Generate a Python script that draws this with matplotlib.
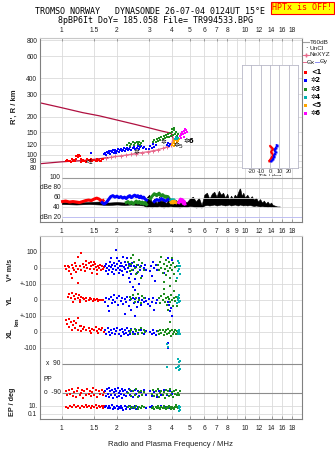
import matplotlib
matplotlib.use("Agg")
from matplotlib import pyplot as plt
import numpy as np

# ---- data ----
FREQ_TICKS = [1, 1.5, 2, 3, 4, 5, 6, 7, 8, 10, 12, 14, 16, 18]
FREQ_TICKS_MID = [1, 1.5, 2, 3, 4, 5, 6, 7, 8, 9, 10, 12, 14, 16, 18]
FREQ_LABELS = ['1', '1.5', '2', '3', '4', '5', '6', '7', '8', '10', '12', '14', '16', '18']
FREQ_LABELS_MID = ['1', '1.5', '2', '3', '4', '5', '6', '7', '8', '9', '10', '12', '14', '16', '18']
R_TICKS = [80, 90, 100, 120, 150, 200, 300, 400, 600, 800]

# model profile lines (MHz, km)
upper_f = [0.76, 1.0, 1.3, 1.6, 2.0, 2.5, 3.0, 3.5, 3.95, 4.05]
upper_r = [257, 235, 215, 203, 188, 174, 163, 154, 148, 135]
lower_f = [0.76, 1.0, 1.3, 1.6, 1.8, 2.0, 2.3, 2.6, 3.0, 3.3, 3.6, 3.9, 4.0, 4.05]
lower_r = [85, 88, 90, 93, 95, 97, 100, 103, 106, 109, 113, 118, 125, 135]
nexyz_f = [1.75, 1.85, 1.95, 2.1, 2.25, 2.4, 2.55, 2.75, 2.95, 3.15, 3.35, 3.55, 3.75, 3.95]
nexyz_r = [95, 96, 97, 98, 99, 101, 102, 104, 106, 108, 110, 113, 116, 119]

# echo traces R' (MHz, km)
top_red = [(1.05, 90), (1.07, 91), (1.09, 89), (1.11, 90), (1.13, 92), (1.15, 90), (1.17, 91),
           (1.19, 93), (1.2, 97), (1.22, 99), (1.23, 96), (1.24, 100), (1.25, 98), (1.27, 92),
           (1.29, 90), (1.31, 91), (1.33, 89), (1.35, 90), (1.37, 92), (1.40, 91), (1.43, 89),
           (1.46, 90), (1.5, 91), (1.53, 90), (1.56, 92), (1.59, 91), (1.62, 90), (1.65, 92),
           (1.68, 93), (1.12, 88), (1.18, 89), (1.28, 88), (1.36, 88), (1.45, 92), (1.55, 89),
           (1.64, 90)]
top_blue = [(1.70, 101), (1.72, 104), (1.74, 100), (1.76, 106), (1.78, 103), (1.80, 108),
            (1.82, 104), (1.84, 101), (1.86, 107), (1.88, 105), (1.90, 109), (1.92, 103),
            (1.94, 106), (1.96, 110), (1.98, 104), (2.00, 108), (2.03, 111), (2.05, 105),
            (2.08, 109), (2.10, 112), (2.13, 107), (2.16, 110), (2.19, 113), (2.22, 108),
            (2.25, 111), (2.28, 114), (2.31, 109), (2.34, 112), (2.37, 115), (2.40, 110),
            (2.44, 113), (2.48, 116), (2.52, 111), (2.56, 114), (2.60, 117), (2.64, 112),
            (2.68, 115), (2.72, 118), (2.76, 113), (2.82, 116), (2.88, 112), (3.0, 112),
            (3.05, 118), (3.1, 114), (3.15, 121), (3.2, 116), (3.25, 119), (3.75, 120),
            (3.8, 124), (3.85, 118), (3.9, 122), (1.44, 103)]
top_green = [(2.28, 120), (2.32, 124), (2.36, 118), (2.40, 122), (2.44, 126), (2.48, 119),
             (2.52, 123), (2.56, 127), (2.60, 121), (2.64, 125), (2.68, 120), (2.72, 124),
             (2.76, 128), (3.15, 125), (3.2, 130), (3.25, 127), (3.3, 133), (3.35, 129),
             (3.4, 136), (3.45, 131), (3.5, 138), (3.55, 133), (3.6, 140), (3.65, 135),
             (3.7, 142), (3.75, 137), (3.8, 145), (3.85, 139), (3.9, 148), (3.95, 141),
             (4.0, 152), (4.05, 144), (4.1, 156), (4.15, 146), (4.2, 150), (4.25, 140),
             (4.3, 145), (3.98, 160), (4.12, 162)]
top_orange = [(4.0, 120), (4.05, 124), (4.08, 118), (4.12, 127), (4.16, 122), (4.2, 130),
              (4.24, 125), (4.28, 132), (4.32, 128), (4.36, 134), (4.1, 131), (4.22, 136)]
top_teal = [(4.15, 134), (4.2, 138), (4.25, 132), (4.3, 136)]
top_magenta = [(4.4, 140), (4.45, 146), (4.5, 142), (4.55, 150), (4.6, 145), (4.65, 155),
               (4.7, 148), (4.75, 158), (4.8, 150), (4.5, 136), (4.62, 138), (4.72, 160)]

# tilt inset (deg, km)
tilt_red = [(0, 118), (1, 116), (2, 114), (3, 112), (2, 109), (1, 106), (2, 103), (3, 100),
            (2, 97), (1, 94), (0, 92), (-1, 90)]
tilt_blue = [(7, 120), (7, 117), (6, 114), (5, 111), (5, 108), (6, 105), (5, 102), (4, 99),
             (4, 96), (3, 93), (2, 91), (1, 89)]

# amplitude dBe
amp_red_f = [1.01, 1.05, 1.10, 1.15, 1.20, 1.25, 1.30, 1.35, 1.40, 1.45, 1.50, 1.55, 1.60, 1.65, 1.68]
amp_red = [52, 53, 51, 52, 51, 50, 52, 54, 55, 54, 57, 59, 57, 52, 54]
amp_blue_f = [1.66, 1.70, 1.75, 1.80, 1.85, 1.90, 1.95, 2.00, 2.05, 2.10, 2.15, 2.20, 2.25,
              2.30, 2.35, 2.40, 2.45, 2.50, 2.55, 2.60, 2.65, 2.70, 2.75, 2.80, 2.85, 2.90]
amp_blue = [50, 47, 50, 56, 62, 64, 61, 63, 60, 62, 59, 61, 58, 62, 64, 60, 63, 65, 62, 64,
            60, 63, 59, 61, 57, 55]
amp_blue2_f = [3.20, 3.30, 3.40, 3.50, 3.60, 3.70, 3.80]
amp_blue2 = [52, 56, 54, 58, 55, 53, 56]
amp_green_f = [2.25, 2.30, 2.35, 2.40, 2.45, 2.50, 2.55, 2.60, 2.65, 2.70, 2.75, 2.80, 2.85, 2.90]
amp_green = [50, 52, 48, 51, 47, 50, 53, 49, 52, 48, 51, 47, 50, 46]
amp_green2_f = [3.05, 3.10, 3.15, 3.20, 3.25, 3.30, 3.35, 3.40, 3.45, 3.50, 3.55, 3.60, 3.65,
                3.70, 3.75, 3.80, 3.85, 3.90]
amp_green2 = [58, 62, 65, 68, 66, 64, 67, 69, 65, 63, 66, 64, 61, 63, 60, 62, 58, 55]
amp_teal_f = [3.95, 4.0, 4.05, 4.1]
amp_teal = [54, 56, 53, 55]
amp_orange_f = [3.95, 4.0, 4.05, 4.1, 4.15, 4.2]
amp_orange = [50, 52, 49, 53, 51, 50]
amp_mag_f = [4.35, 4.4, 4.45, 4.5, 4.55, 4.6, 4.65, 4.7]
amp_mag = [50, 54, 57, 52, 56, 48, 53, 47]
noise_f = [1.0, 1.2, 1.4, 1.6, 1.8, 2.0, 2.2, 2.4, 2.6, 2.8, 2.9, 3.0, 3.1, 3.2, 3.3, 3.4, 3.5,
           3.6, 3.7, 3.8, 3.9, 4.0, 4.2, 4.4, 4.6, 4.8, 5.0, 5.2, 5.4, 5.6, 5.8, 6.0, 6.2, 6.4,
           6.6, 6.8, 7.0, 7.2, 7.4, 7.6, 7.8, 8.0, 8.2, 8.4, 8.6, 8.8, 9.0, 9.2, 9.4, 9.6, 9.8,
           10.0, 10.3, 10.6, 10.9, 11.2, 11.5, 11.8, 12.1, 12.4, 12.7, 13.0, 13.3, 13.6, 13.9,
           14.2, 14.5, 15.0, 15.5]
noise_lo = [47, 46, 47, 46, 45, 46, 45, 46, 45, 44, 40, 42, 40, 42, 41, 43, 41, 40, 42, 41, 43,
            42, 41, 40, 42, 41, 43, 42, 40, 41, 40, 44, 45, 44, 45, 46, 44, 45, 46, 45, 44, 45,
            46, 44, 45, 46, 45, 44, 46, 45, 44, 45, 44, 45, 44, 43, 44, 43, 42, 43, 42, 42, 41,
            42, 41, 41, 41, 41, 41]
noise_hi = [51, 50, 51, 52, 50, 51, 50, 52, 51, 50, 60, 66, 50, 58, 48, 62, 52, 58, 48, 55, 60,
            50, 55, 48, 56, 50, 58, 62, 52, 60, 45, 66, 70, 58, 68, 72, 62, 74, 66, 70, 60, 68,
            56, 64, 58, 66, 62, 72, 80, 64, 70, 60, 66, 58, 63, 56, 60, 52, 57, 50, 54, 48, 52,
            47, 50, 45, 44, 42, 42]

# V*, YL, XL rows (MHz, m/s or km)
vs_red = [(1.04, 10), (1.06, -5), (1.08, 15), (1.09, -20), (1.10, 5), (1.12, -35), (1.13, -62),
          (1.14, 20), (1.15, 0), (1.16, -15), (1.18, 30), (1.19, -25), (1.20, 10), (1.22, 70),
          (1.22, -94), (1.23, -5), (1.25, 15), (1.27, 94), (1.28, -10), (1.30, 25), (1.32, 5),
          (1.34, -20), (1.36, 20), (1.38, 0), (1.40, 30), (1.42, -8), (1.44, 12), (1.46, -30),
          (1.48, 18), (1.50, -5), (1.52, 25), (1.54, 5), (1.56, -15), (1.58, 15), (1.60, 0),
          (1.62, 20), (1.64, -10), (1.66, 10), (1.68, -5), (1.70, 5), (1.35, 45), (1.45, 40),
          (1.55, -40), (1.5, 35)]
vs_blue = [(1.72, 10), (1.74, -20), (1.75, 25), (1.77, 0), (1.78, -35), (1.80, 15), (1.82, -10),
           (1.83, 40), (1.85, 5), (1.87, -25), (1.88, 20), (1.90, -5), (1.92, 30), (1.93, -40),
           (1.95, 10), (1.97, 112), (1.98, -15), (2.00, 25), (2.02, 0), (2.04, -30), (2.05, 45),
           (2.07, 10), (2.09, -10), (2.10, 30), (2.12, -20), (2.14, 15), (2.16, -45), (2.18, 5),
           (2.20, 35), (2.22, -5), (2.24, 20), (2.26, -25), (2.28, 60), (2.30, 0), (2.32, -60),
           (2.34, 25), (2.36, -90), (2.38, 10), (2.40, -40), (2.42, 30), (2.44, -120), (2.46, -10),
           (2.48, 15), (2.50, -70), (2.52, -140), (2.55, 5), (2.58, -30), (2.60, 20), (2.63, -100),
           (2.66, -15), (2.70, 10), (2.75, -50), (2.80, 0), (2.85, 20), (2.90, -10), (1.85, 60),
           (2.0, 65), (2.15, 70), (3.05, -20), (3.08, 10), (3.12, -50), (3.15, 40), (3.18, 0),
           (3.22, -80), (3.25, 20), (3.30, -10), (3.5, 70), (3.8, 60), (4.0, 50), (3.6, -30)]
vs_green = [(2.30, 40), (2.33, 10), (2.36, -20), (2.38, 60), (2.40, 25), (2.43, -10), (2.46, 80),
            (2.48, 35), (2.50, 0), (2.53, -40), (2.56, 20), (2.60, -25), (2.63, 50), (2.66, 5),
            (2.70, -60), (2.75, 30), (2.80, -15), (3.35, 20), (3.40, -10), (3.45, 40), (3.50, 0),
            (3.55, -30), (3.60, 25), (3.65, -5), (3.70, 50), (3.72, -45), (3.75, 15), (3.80, -20),
            (3.85, 35), (3.88, 0), (3.92, -60), (3.95, 20), (4.00, -10), (4.05, 30), (4.10, -35),
            (4.15, 5), (4.20, -80), (4.25, 10), (3.6, -90), (3.9, -110), (4.0, 60), (3.5, 70)]
vs_teal = [(4.30, 10), (4.32, -20), (4.35, 30), (4.38, -5), (4.40, 15), (4.42, -35), (4.33, 45),
           (4.28, -60)]

yl_red = [(1.08, 20), (1.10, 35), (1.12, 10), (1.14, 45), (1.16, 25), (1.18, 5), (1.20, 40),
          (1.22, 15), (1.24, 30), (1.26, 0), (1.28, 20), (1.30, 10), (1.33, 5), (1.36, 15),
          (1.40, 0), (1.44, 5), (1.48, -5), (1.52, 0), (1.56, 5), (1.60, -3), (1.64, 3),
          (1.68, 0), (1.15, -10), (1.25, -15), (1.35, -5), (1.42, 10), (1.50, 8), (1.58, -8)]
yl_blue = [(1.72, -10), (1.75, 10), (1.78, -40), (1.80, 5), (1.82, -70), (1.85, 20), (1.88, -20),
           (1.90, 0), (1.93, 30), (1.96, -15), (2.00, 10), (2.03, -30), (2.06, 25), (2.10, -5),
           (2.13, 15), (2.16, -25), (2.20, 5), (2.24, -10), (2.28, 20), (2.32, -35), (2.36, 0),
           (2.40, -60), (2.44, 10), (2.48, -20), (2.52, 5), (2.56, -45), (2.60, -10), (2.65, 15),
           (2.70, -30), (2.75, 0), (2.80, -15), (2.85, 10), (2.90, -5), (2.95, -25), (3.00, 5),
           (3.05, -40), (3.10, -10), (3.15, 10), (3.20, -60), (3.25, -20), (3.30, 0), (3.8, -10),
           (3.85, -30), (3.9, -70), (3.95, -50), (4.0, -100), (2.2, -90), (2.5, -100)]
yl_green = [(2.35, 20), (2.40, 5), (2.45, 30), (2.50, -10), (2.55, 15), (2.60, 35), (2.65, 0),
            (2.70, -20), (2.75, 25), (2.80, 10), (3.40, 10), (3.45, -20), (3.50, 25), (3.55, 0),
            (3.60, 40), (3.65, -10), (3.70, 15), (3.75, -30), (3.80, 20), (3.85, 5), (3.90, -15),
            (3.95, 30), (4.00, 0), (4.05, -35), (4.10, 10), (4.15, -5), (4.20, 20), (4.25, -40),
            (4.30, 5), (3.6, 70), (4.1, 55), (3.8, -60)]
yl_teal = [(4.30, 0), (4.33, 20), (4.36, -10), (4.38, 10), (4.40, -5), (4.35, 30), (4.28, -20)]

xl_red = [(1.05, 75), (1.07, 50), (1.09, 80), (1.10, 30), (1.12, 60), (1.13, 15), (1.15, 45),
          (1.17, 70), (1.18, 25), (1.20, 55), (1.22, 10), (1.23, 85), (1.25, 35), (1.27, 5),
          (1.30, 20), (1.33, 30), (1.36, 10), (1.40, 25), (1.43, 5), (1.46, 20), (1.50, 15),
          (1.53, 30), (1.56, 5), (1.60, 20), (1.63, 10), (1.66, 25), (1.69, 0), (1.28, 40),
          (1.45, -5), (1.58, -5)]
xl_blue = [(1.72, 10), (1.75, -10), (1.78, 25), (1.80, 0), (1.83, -20), (1.86, 15), (1.89, -5),
           (1.92, 20), (1.95, -15), (1.98, 5), (2.01, 25), (2.04, -10), (2.07, 10), (2.10, -25),
           (2.13, 20), (2.16, 0), (2.19, -15), (2.22, 15), (2.25, -5), (2.28, 25), (2.31, -20),
           (2.34, 5), (2.37, -10), (2.40, 20), (2.45, 0), (2.50, -15), (2.55, 10), (2.60, -5),
           (2.70, 15), (2.80, -10), (2.90, 5), (3.05, 0), (3.10, -15), (3.15, 10), (3.20, -5),
           (3.25, -20), (3.30, 5), (3.8, -70), (3.82, -100)]
xl_green = [(2.35, 0), (2.40, 15), (2.45, -10), (2.50, 20), (2.55, 5), (2.60, -15), (2.65, 10),
            (2.70, 25), (2.75, -5), (2.80, 15), (2.85, 0), (3.35, 5), (3.40, -15), (3.45, 10),
            (3.50, -5), (3.55, 15), (3.60, -20), (3.65, 0), (3.70, 10), (3.75, -10), (3.80, 20),
            (3.85, -5), (3.90, 5), (3.95, -25), (4.00, 10), (4.05, -10), (4.10, 0), (4.15, 15),
            (4.20, -15), (4.25, 5), (4.30, -5), (3.9, 60)]
xl_teal = [(4.30, 5), (4.33, -10), (4.36, 15), (4.38, 0), (4.40, -15), (3.75, -75), (3.78, -95)]

x90_teal = [(3.75, -19), (4.30, 30), (4.33, -20), (4.36, -37), (4.38, -10), (4.40, 20),
            (4.42, -30), (4.35, 10), (4.20, -25)]

pp_red = [(1.05, 10), (1.07, -15), (1.09, 20), (1.11, -5), (1.13, 25), (1.15, -20), (1.17, 5),
          (1.19, -25), (1.21, 15), (1.23, 30), (1.25, -10), (1.27, 0), (1.29, 20), (1.31, -30),
          (1.33, 10), (1.35, -15), (1.37, 25), (1.40, -5), (1.42, 15), (1.44, -20), (1.46, 5),
          (1.48, 30), (1.50, -10), (1.53, 20), (1.56, -25), (1.59, 10), (1.62, -5), (1.65, 20),
          (1.68, -15), (1.70, 5)]
pp_blue = [(1.72, 15), (1.74, -20), (1.76, 25), (1.78, -5), (1.80, 30), (1.82, -25), (1.84, 10),
           (1.86, -10), (1.88, 20), (1.90, -30), (1.92, 5), (1.94, 25), (1.96, -15), (1.98, 10),
           (2.00, -25), (2.02, 30), (2.04, 0), (2.06, -20), (2.08, 15), (2.10, -5), (2.12, 25),
           (2.14, -30), (2.16, 10), (2.18, -10), (2.20, 20), (2.24, -20), (2.28, 5), (2.32, 25),
           (2.36, -15), (2.40, 10), (2.45, -25), (2.50, 20), (2.55, -5), (2.60, 15), (2.65, -20),
           (2.70, 5), (2.80, 20), (2.90, -10), (3.05, 15), (3.10, -20), (3.20, 5), (3.30, -25),
           (3.40, 10), (3.50, -10), (3.60, 20), (3.75, -15), (3.90, 10), (4.00, -5), (4.10, 15)]
pp_green = [(2.30, 0), (2.35, 20), (2.40, -20), (2.45, 10), (2.50, -10), (2.55, 25), (2.60, -25),
            (2.65, 5), (2.70, 15), (2.75, -15), (2.80, 5), (3.10, -5), (3.15, 20), (3.20, -20),
            (3.25, 10), (3.30, -10), (3.35, 25), (3.40, -25), (3.45, 0), (3.50, 15), (3.55, -15),
            (3.60, 5), (3.65, -30), (3.70, 20), (3.75, -5), (3.80, 10), (3.85, -20), (3.90, 25),
            (3.95, -10), (4.00, 5), (4.05, -25), (4.10, 15), (4.15, -5), (4.20, 20), (4.25, -15),
            (4.30, 0), (4.35, -10), (4.40, 10)]

ep_red = [(1.05, 0), (1.08, -8), (1.11, 5), (1.14, -3), (1.17, 8), (1.20, -5), (1.23, 3),
          (1.26, -10), (1.29, 6), (1.32, -2), (1.35, 9), (1.38, -6), (1.41, 2), (1.44, -9),
          (1.47, 4), (1.50, -4), (1.53, 7), (1.56, -7), (1.59, 1), (1.62, -3), (1.65, 6),
          (1.68, -8), (1.70, 3)]
ep_blue = [(1.72, -5), (1.75, 5), (1.78, -12), (1.81, 2), (1.84, -8), (1.87, 8), (1.90, -15),
           (1.93, 0), (1.96, -10), (1.99, 6), (2.02, -18), (2.05, -3), (2.08, -12), (2.11, 4),
           (2.14, -9), (2.17, -20), (2.20, 1), (2.24, -14), (2.28, -6), (2.32, 3), (2.36, -16),
           (2.40, -4), (2.45, -10), (2.50, 2), (2.55, -13), (2.60, -5), (2.70, -8), (2.80, 0),
           (2.90, -12), (3.05, -6), (3.10, 3), (3.20, -14), (3.30, -2), (3.40, -9), (3.50, 4),
           (3.60, -12), (3.70, -3), (3.85, -8), (4.00, 0), (4.10, -10)]
ep_green = [(2.30, -5), (2.35, 3), (2.40, -12), (2.45, 0), (2.50, -8), (2.55, 5), (2.60, -15),
            (2.65, -2), (2.70, -9), (2.75, 2), (2.80, -6), (3.10, -10), (3.15, 0), (3.20, -16),
            (3.25, -4), (3.30, -12), (3.35, 2), (3.40, -8), (3.45, -18), (3.50, -3), (3.55, -11),
            (3.60, 1), (3.65, -7), (3.70, -15), (3.75, -2), (3.80, -10), (3.85, 4), (3.90, -6),
            (3.95, -13), (4.00, 0), (4.05, -8), (4.10, -17), (4.15, -4), (4.20, 10), (4.25, -2),
            (4.30, -10)]
ep_teal = [(4.35, 5), (4.38, -10), (4.40, -20), (4.42, 0), (4.36, -30)]

# ---- styling ----
RED, BLUE, GREEN, TEAL, ORANGE, MAGENTA = '#ff0000', '#0000ff', '#1e8c1e', '#00b0b0', '#ffa500', '#ff00ff'
GRID = '#dadada'
SPINE = '#808080'
TXT = '#202020'
plt.rcParams['font.family'] = ['Liberation Sans', 'DejaVu Sans']

W, H = 335, 451
XMIN, XMAX = 0.76, 20.5
fig = plt.figure(figsize=(W / 100, H / 100), dpi=100)


def box(x0, y0, x1, y1):
    return [x0 / W, 1 - y1 / H, (x1 - x0) / W, (y1 - y0) / H]


def px(x, y):
    return x / W, 1 - y / H


def dots(ax, pts, color, dy=0, ms=1.8):
    f, v = zip(*pts)
    ax.plot(f, np.array(v) + dy, ls='none', marker='s', ms=ms, mew=0, color=color)


def freq_axis(ax):
    ax.set_xscale('log')
    ax.set_xlim(XMIN, XMAX)
    ax.xaxis.set_minor_locator(plt.NullLocator())
    for f in FREQ_TICKS_MID:
        ax.axvline(f, color=GRID, lw=0.6, zorder=0)
    for side in ['left', 'right']:
        ax.spines[side].set_color(SPINE)
    ax.tick_params(axis='both', labelsize=4.8, colors=TXT, length=2.5, width=0.5,
                   direction='in', pad=2)
    ax.tick_params(axis='x', color=SPINE)


# top panel: virtual range
ax1 = fig.add_axes(box(40, 38, 302, 176))
freq_axis(ax1)
ax1.set_yscale('log')
ax1.set_ylim(68, 834)
ax1.yaxis.set_minor_locator(plt.NullLocator())
ax1.set_yticks(R_TICKS)
ax1.set_yticklabels([str(r) for r in R_TICKS])
for r in R_TICKS:
    ax1.axhline(r, color=GRID, lw=0.6, zorder=0)
ax1.xaxis.tick_top()
ax1.set_xticks(FREQ_TICKS)
ax1.set_xticklabels(FREQ_LABELS)
ax1.spines['bottom'].set_visible(False)
ax1.spines['top'].set_color('#c8c8c8')
ax1.tick_params(axis='y', length=0)
ax1.tick_params(axis='x', pad=3)
ax1.set_ylabel("R', R / km", fontsize=5.5, fontweight='bold', color=TXT, labelpad=6)

ax1.plot(upper_f, upper_r, color='#b01040', lw=0.9)
ax1.plot(lower_f[:5], lower_r[:5], color='#b01040', lw=0.9)
ax1.plot(lower_f[4:], lower_r[4:], color='#e86a8c', lw=0.9)
ax1.plot(nexyz_f, nexyz_r, ls='none', marker='+', ms=3, mew=0.7, color='#e86a8c')
for pts, c in [(top_red, RED), (top_blue, BLUE), (top_green, GREEN), (top_orange, ORANGE),
               (top_teal, TEAL), (top_magenta, MAGENTA)]:
    dots(ax1, pts, c, ms=2.1)
ax1.text(1.41, 87, '<1', fontsize=4.8, ha='center', va='center', color='black')
for f, r, s in [(2.45, 106, '✲'), (3.45, 126, '✲'), (4.05, 119, '✲'), (4.6, 128, '✲6')]:
    ax1.text(f, r, s, fontsize=5, ha='left', va='center', color='black',
             family=['DejaVu Sans'], fontweight='bold')
ax1.text(4.35, 116, '5', fontsize=4.5, ha='left', va='center', color='black')

# tilt inset
axi = fig.add_axes(box(242, 65, 298, 168))
axi.set_xlim(-30, 30)
axi.set_yscale('log')
axi.set_ylim(79, 512)
axi.set_facecolor('white')
for d in [-20, -10, 0, 10, 20]:
    axi.axvline(d, color='#b8b8c8', lw=0.6)
for s in axi.spines.values():
    s.set_color('#b8b8c8')
    s.set_linewidth(0.6)
axi.set_yticks([])
axi.yaxis.set_minor_locator(plt.NullLocator())
axi.set_xticks([-20, -10, 0, 10, 20])
axi.set_xticklabels(['-20', '-10', '0', '10', '20'])
axi.tick_params(axis='x', labelsize=4, length=0, pad=1, colors=TXT)
axi.set_xlabel('Tilt / deg', fontsize=4.2, labelpad=0, color=TXT)
for pts, c in [(tilt_red, RED), (tilt_blue, BLUE)]:
    t, r = zip(*pts)
    axi.plot(t, r, color=c, lw=1.2, marker='s', ms=1.4, mew=0)

# amplitude panel
ax2 = fig.add_axes(box(40, 176, 302, 222))
freq_axis(ax2)
ax2.set_ylim(10.4, 104)
ax2.set_yticks([])
ax2.spines['top'].set_visible(False)
ax2.spines['bottom'].set_color(SPINE)
ax2.set_xticks(FREQ_TICKS_MID)
ax2.set_xticklabels(FREQ_LABELS_MID)
ax2.tick_params(axis='x', pad=4)
ax2.hlines(100, 1.0, XMAX, color='#999999', lw=0.8)
for lev in [80, 60, 40]:
    ax2.hlines(lev, 1.0, XMAX, color=GRID, lw=0.6)
ax2.hlines(20, 1.0, XMAX, color='#b4b4f0', lw=0.6)
for lev, lab in [(100, '100'), (80, 'dBe 80'), (60, '60'), (40, '40'), (20, 'dBn 20')]:
    ax2.text(0.985, lev, lab, fontsize=4.8, ha='right', va='center', color=TXT)
ax2.fill_between(noise_f, noise_lo, noise_hi, color='black', lw=0.4)
for fx, vals, c in [(amp_red_f, amp_red, RED), (amp_blue_f, amp_blue, BLUE),
                    (amp_green_f, amp_green, GREEN), (amp_green2_f, amp_green2, GREEN),
                    (amp_blue2_f, amp_blue2, BLUE), (amp_teal_f, amp_teal, TEAL),
                    (amp_orange_f, amp_orange, ORANGE), (amp_mag_f, amp_mag, MAGENTA)]:
    ax2.plot(fx, vals, color=c, lw=2.2)

# velocity / location / polarisation panel
ROW_VS, ROW_YL, ROW_XL, ROW_X90, ROW_PP, ROW_EP = 0, -200, -400, -600, -781, -866
ax3 = fig.add_axes(box(40, 236, 302, 419))
freq_axis(ax3)
ax3.set_ylim(-944, 200)
ax3.set_xticks(FREQ_TICKS)
ax3.set_xticklabels(FREQ_LABELS)
ax3.spines['top'].set_color('#c8c8c8')
ax3.spines['bottom'].set_color(SPINE)
ax3.tick_params(axis='x', pad=4)
ytk = [100, 0, -100, -200, -300, -400, -500, -862, -912]
ax3.set_yticks(ytk)
ax3.set_yticklabels(['100', '0', '+-100', '0', '+-100', '0', '-100', '10.', '0.1'])
ax3.tick_params(axis='y', length=0)
for lev in ytk:
    ax3.axhline(lev, color=GRID, lw=0.6, zorder=0)
ax3.hlines([ROW_X90, ROW_PP], 1.0, XMAX, color='#8c8c8c', lw=0.8)
ax3.text(0.985, ROW_X90, 'x  90', fontsize=4.8, ha='right', va='center', color=TXT)
ax3.text(0.985, ROW_PP, 'o  -90', fontsize=4.8, ha='right', va='center', color=TXT)
ax3.text(0.79, -700, 'PP', fontsize=4.8, ha='left', va='center', color=TXT)
for rows, dy in [([vs_red, vs_blue, vs_green, vs_teal], ROW_VS),
                 ([yl_red, yl_blue, yl_green, yl_teal], ROW_YL),
                 ([xl_red, xl_blue, xl_green, xl_teal], ROW_XL)]:
    for pts, c in zip(rows, [RED, BLUE, GREEN, TEAL]):
        dots(ax3, pts, c, dy)
dots(ax3, x90_teal, TEAL, ROW_X90)
for pts, c in [(pp_red, RED), (pp_blue, BLUE), (pp_green, GREEN)]:
    dots(ax3, pts, c, ROW_PP)
for pts, c in [(ep_red, RED), (ep_blue, BLUE), (ep_green, GREEN), (ep_teal, TEAL)]:
    dots(ax3, pts, c, ROW_EP)
ax3.set_xlabel('Radio and Plasma Frequency / MHz', fontsize=5.6, color=TXT, labelpad=7)

# side labels of the lower panel
for x, y, s, fs in [(10, 270, 'V* m/s', 5.2), (10, 300, 'YL', 5.5), (17, 322, 'km', 4.2),
                    (10, 333, 'XL', 5.5), (13, 402, 'EP / deg', 5.2)]:
    fig.text(*px(x, y), s, rotation=90, fontsize=fs, fontweight='bold', color=TXT,
             ha='center', va='center')

# header
fig.text(*px(150, 12), 'TROMSO NORWAY   DYNASONDE 26-07-04 0124UT 15°E', fontsize=6,
         family='DejaVu Sans Mono', ha='center', va='center', color='black')
fig.text(*px(155, 20.5), '8pBP6It DoY= 185.058 File= TR994533.BPG', fontsize=6,
         family='DejaVu Sans Mono', ha='center', va='center', color='black')
fig.text(*px(302.5, 8), 'HPTx is OFF!', fontsize=6, family='DejaVu Sans Mono',
         ha='center', va='center', color='red',
         bbox=dict(boxstyle='square,pad=0.2', fc='#ffff00', ec='red', lw=0.8))

# legend column on the right
fig.add_artist(plt.Line2D([303 / W, 309 / W], [1 - 42 / H] * 2, color='#a0a0a0', lw=0.8))
fig.text(*px(310, 42), 'T60dB', fontsize=4.6, va='center', color=TXT)
fig.text(*px(306, 48.5), '·', fontsize=5, va='center', ha='center', color='black')
fig.text(*px(310, 48.5), 'UnCl', fontsize=4.6, va='center', color=TXT)
fig.add_artist(plt.Line2D([303 / W, 306 / W, 309 / W], [1 - 55 / H] * 3, color='#e86a8c',
                          lw=0.7, marker='+', ms=3, markevery=[1]))
fig.text(*px(310, 55), 'NeXYZ', fontsize=4.6, va='center', color=TXT)
fig.add_artist(plt.Line2D([303 / W, 306 / W], [1 - 62 / H] * 2, color='#e86a8c', lw=0.7))
fig.text(*px(306.5, 62), 'Θx', fontsize=4.6, va='center', color=TXT)
fig.add_artist(plt.Line2D([315 / W, 319 / W], [1 - 62 / H] * 2, color='#8c8cf0', lw=0.7))
fig.text(*px(319.5, 62), 'Θy', fontsize=4.6, va='center', color=TXT)
for y, c, s in [(72, RED, '<1'), (80, BLUE, '✲2'), (89, GREEN, '✲3'), (97, TEAL, '✲4'),
                (105, ORANGE, '<5'), (113, MAGENTA, '✲6')]:
    fig.add_artist(plt.Rectangle((304 / W, 1 - (y + 1.5) / H), 3 / W, 3 / H,
                                 transform=fig.transFigure, color=c, lw=0))
    fig.text(*px(311, y), s, fontsize=4.8, va='center', color='black',
             family=['DejaVu Sans'], fontweight='bold')

fig.savefig('out.png', dpi=100)
